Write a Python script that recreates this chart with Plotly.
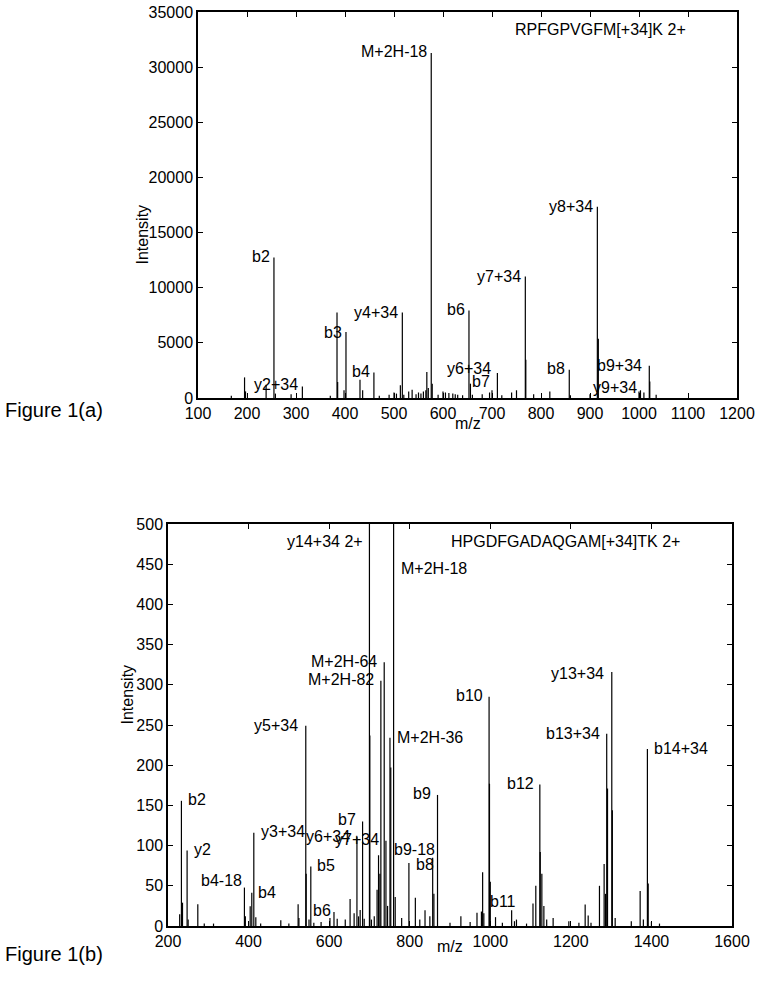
import plotly.graph_objects as go

# ---- Figure 1(a): RPFGPVGFM[+34]K 2+ ----
a_mz = [168, 195, 197, 239, 255, 258, 290, 313, 370, 383.7, 385, 398, 402, 430.6, 436, 459,
        470, 490, 500, 505, 513, 517, 520, 530, 537, 545, 550, 555, 560, 565, 567, 570, 576, 578,
        590, 600, 605, 612, 620, 625, 630, 640, 653, 656, 660, 680, 695, 700, 711, 720, 740, 750,
        768, 769, 785, 818, 857.7, 860, 900, 915, 917, 1000, 1003, 1010, 1021, 1022, 1035]
a_int = [200, 1870, 600, 1200, 12730, 400, 350, 1050, 200, 7754, 1450, 700, 5974, 1660, 700, 2323,
         200, 300, 500, 400, 1150, 7754, 300, 600, 750, 350, 500, 400, 600, 700, 2350, 900, 31290, 1300,
         300, 600, 500, 450, 400, 350, 300, 250, 7935, 1300, 300, 350, 500, 700, 2263, 250, 500, 700,
         11013, 3470, 350, 600, 2565, 250, 350, 17350, 5370, 600, 700, 500, 2927, 1500, 300]

a_lab = ["M+2H-18", "b2", "b3", "b4", "y4+34", "y2+34", "b6", "y6+34", "b7", "y7+34",
         "b8", "y8+34", "b9+34", "y9+34"]
a_lab_mz = [572, 251, 398, 455, 513, 309, 649, 702, 699, 764, 853, 911, 1011, 1001]
a_lab_int = [31380, 12820, 5974, 2414, 7754, 1267, 8000, 2715, 1508, 11013, 2655, 17350, 2957, 965]

# ---- Figure 1(b): HPGDFGADAQGAM[+34]TK 2+ ----
b_mz = [229, 233.3, 236, 247.4, 250, 274, 290, 313, 389.7, 392, 404, 408, 413, 418, 430, 480,
        500, 523, 525, 542, 543, 550, 554.5, 562, 580, 602, 612, 620, 640, 652, 662, 669, 673,
        677, 683, 687, 700, 701, 705, 712, 719, 722.6, 726, 728.4, 736.7, 741, 745, 751, 753,
        760, 764, 780, 798, 814, 825, 838, 850, 857, 860, 869, 900, 927, 950, 967, 978, 981, 984,
        997, 998, 1000, 1013, 1030, 1053, 1060, 1065, 1090, 1106, 1113, 1123, 1124, 1128, 1133,
        1140, 1156, 1195, 1220, 1235.5, 1243, 1250, 1271, 1282.6, 1286, 1289, 1291, 1301.6, 1303,
        1310, 1350, 1372, 1380, 1390, 1392, 1400, 1420]
b_int = [14.5, 155.7, 29, 94, 8, 27, 3, 3, 47.8, 12, 24.5, 41.5, 116, 11, 3, 7,
         3, 27, 10, 249, 65, 8, 74, 4, 5, 10, 17.5, 9, 8, 33.6, 16, 111, 12,
         20, 130, 9, 620, 237, 8, 12, 45, 88, 65, 305, 328, 106, 25, 234, 197,
         620, 36, 10, 78.5, 35, 8, 19.5, 12, 85, 40, 163, 4, 12, 5, 16.6, 18, 67, 16,
         285, 177, 55, 11, 4, 19.5, 6, 8, 3, 28, 50, 176, 92, 65, 25,
         8, 10, 6, 4, 26.6, 13, 4, 50, 77, 40, 239, 171, 316, 144,
         10, 6, 43.6, 8, 220, 53, 5, 3]

b_lab = ["y14+34 2+", "M+2H-18", "M+2H-64", "M+2H-82", "y5+34", "M+2H-36", "b2", "y2",
         "y3+34", "b4-18", "b4", "y6+34", "y7+34", "b7", "b5", "b6", "b9-18", "b8", "b9",
         "b10", "b11", "b12", "b13+34", "y13+34", "b14+34"]
b_lab_mz = [689, 773, 724, 716, 528.7, 764, 245.8, 259, 425.5, 388, 419, 656, 728.4, 671, 566,
            556, 756, 810, 857, 986, 994, 1114, 1277, 1287.6, 1401]
b_lab_int = [478, 445, 329, 306, 250, 235, 157, 95, 117, 57, 42, 111, 107, 132, 75.6,
             19.5, 95.5, 77, 165, 286.5, 30, 177, 240, 314, 221]
# labels that start at the given m/z (left-aligned text)
b_left = {"M+2H-18", "M+2H-36", "b2", "y2", "y3+34", "b4", "b5", "b6", "b9-18", "b8",
          "b11", "b14+34"}

FONT = "Liberation Sans, Arial, Helvetica, sans-serif"
W, H = 761, 983


def px_x(p):  # window pixel -> paper x
    return p / W


def px_y(p):  # window pixel -> paper y
    return 1 - p / H


def stems(mz, inten):
    """vertical stick spectrum as one line trace"""
    xs, ys = [], []
    for m, v in zip(mz, inten):
        xs += [m, m, None]
        ys += [0, v, None]
    return xs, ys


fig = go.Figure()
xa, ya = stems(a_mz, a_int)
fig.add_trace(go.Scatter(x=xa, y=ya, mode="lines", line=dict(color="black", width=1.2),
                         xaxis="x", yaxis="y", hoverinfo="skip"))
xb, yb = stems(b_mz, b_int)
fig.add_trace(go.Scatter(x=xb, y=yb, mode="lines", line=dict(color="black", width=1.2),
                         xaxis="x2", yaxis="y2", hoverinfo="skip"))

ann = []
for t, m, v in zip(a_lab, a_lab_mz, a_lab_int):
    ann.append(dict(x=m, y=v, xref="x", yref="y", text=t, showarrow=False,
                    xanchor="right", yanchor="middle"))
ann.append(dict(x=1100, y=33400, xref="x", yref="y", text="RPFGPVGFM[+34]K 2+",
                showarrow=False, xanchor="right", yanchor="middle"))
for t, m, v in zip(b_lab, b_lab_mz, b_lab_int):
    ann.append(dict(x=m, y=v, xref="x2", yref="y2", text=t, showarrow=False,
                    xanchor="left" if t in b_left else "right", yanchor="middle"))
ann.append(dict(x=897, y=478, xref="x2", yref="y2", text="HPGDFGADAQGAM[+34]TK 2+",
                showarrow=False, xanchor="left", yanchor="middle"))


def pix(px, py, text, size=16, **kw):
    return dict(x=px_x(px), y=px_y(py), xref="paper", yref="paper", text=text,
                showarrow=False, font=dict(size=size), **kw)


# axis titles and figure captions
ann.append(pix(132, 203, "Intensity", textangle=-90))
ann.append(pix(468, 423, "m/z"))
ann.append(pix(116, 727, "Intensity", textangle=-90))
ann.append(pix(450, 957, "m/z"))
ann.append(pix(3, 410, "Figure 1(a)", size=20, xanchor="left"))
ann.append(pix(3, 967, "Figure 1(b)", size=20, xanchor="left"))

axis_style = dict(showline=True, linecolor="black", linewidth=1.5, mirror="ticks",
                  ticks="inside", ticklen=5, tickwidth=1.2, tickcolor="black",
                  showgrid=False, zeroline=False, automargin=False, tickformat="d",
                  tickfont=dict(size=16, color="black"))

fig.update_layout(
    template="none",
    width=W, height=H, autosize=False,
    margin=dict(l=0, r=0, t=0, b=0, pad=0),
    paper_bgcolor="white", plot_bgcolor="white",
    showlegend=False,
    font=dict(family=FONT, size=16, color="black"),
    annotations=ann,
    xaxis=dict(domain=[px_x(198), px_x(737)], range=[100, 1200], dtick=100, anchor="y",
               **axis_style),
    yaxis=dict(domain=[px_y(398), px_y(12)], range=[0, 35000], dtick=5000, anchor="x",
               **axis_style),
    xaxis2=dict(domain=[px_x(168), px_x(732)], range=[200, 1600], dtick=200, anchor="y2",
                **axis_style),
    yaxis2=dict(domain=[px_y(926), px_y(524)], range=[0, 500], dtick=50, anchor="x2",
                **axis_style),
)

# drop the default page margin so the figure sits at the window's corner
fig.write_html("out.html", config={"displayModeBar": False},
               post_script="document.body.style.margin='0';")
